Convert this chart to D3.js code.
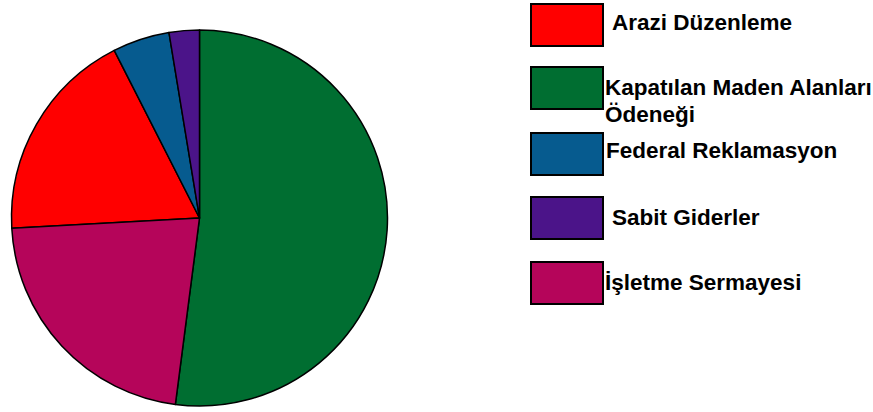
<!DOCTYPE html>
<html>
<head>
<meta charset="utf-8">
<script src="https://cdn.jsdelivr.net/npm/d3@7"></script>
<style>
  html, body { margin: 0; padding: 0; background: #fff; }
  svg { display: block; }
</style>
</head>
<body>
<svg id="chart" width="873" height="412"></svg>
<script>
// ---- data ----
const categories = ["Arazi Düzenleme", "Kapatılan Maden Alanları Ödeneği", "Federal Reklamasyon", "Sabit Giderler", "İşletme Sermayesi"];
const values = [18.4, 52.1, 4.9, 2.6, 22.1];
const colors = ["#ff0000", "#006e31", "#065b8f", "#4b1489", "#b5055a"];
const legendLines = [["Arazi Düzenleme"], ["Kapatılan Maden Alanları", "Ödeneği"], ["Federal Reklamasyon"], ["Sabit Giderler"], ["İşletme Sermayesi"]];
const pieOrder = [1, 4, 0, 2, 3]; // clockwise from 12 o'clock

// ---- layout ----
const svg = d3.select("#chart");
const cx = 199.5, cy = 218, r = 188;

const data = categories.map((c, i) => ({ name: c, value: values[i], color: colors[i], idx: i }));
const pie = d3.pie().value(d => d.value)
  .sort((a, b) => pieOrder.indexOf(a.idx) - pieOrder.indexOf(b.idx));
const arc = d3.arc().innerRadius(0).outerRadius(r);

svg.append("g").attr("transform", `translate(${cx},${cy})`)
  .selectAll("path").data(pie(data)).join("path")
  .attr("d", arc)
  .attr("fill", d => d.data.color)
  .attr("stroke", "#000")
  .attr("stroke-width", 1.5)
  .attr("stroke-linejoin", "round");

// legend
const boxY = [4, 67, 133, 197, 262];
const textX = [612, 605, 606, 612, 605];
const textY = [30, 95, 158, 225, 290];
const lg = svg.append("g");
data.forEach((d, i) => {
  lg.append("rect")
    .attr("x", 531).attr("y", boxY[i])
    .attr("width", 72).attr("height", 42)
    .attr("fill", d.color).attr("stroke", "#000").attr("stroke-width", 2);
  const t = lg.append("text")
    .attr("x", textX[i]).attr("y", textY[i])
    .attr("font-family", "'Liberation Sans', Arial, sans-serif")
    .attr("font-weight", "bold").attr("font-size", 22.5)
    .attr("fill", "#000");
  legendLines[i].forEach((ln, j) => {
    t.append("tspan").attr("x", textX[i]).attr("dy", j === 0 ? 0 : 27).text(ln);
  });
});
</script>
</body>
</html>
